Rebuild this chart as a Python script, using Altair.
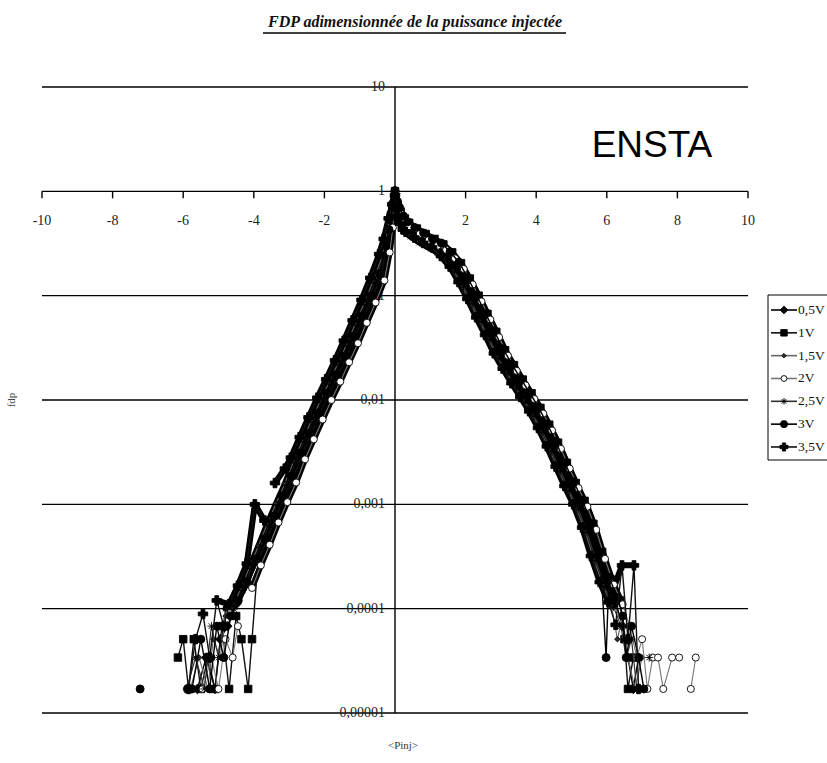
import altair as alt
import pandas as pd

# Series names (excitation voltage)
SERIES = ["0,5V", "1V", "1,5V", "2V", "2,5V", "3V", "3,5V"]

# Normalised injected power <Pinj> (x) and probability density (y), one pair per series
X_05V = [-5.6, -5.35, -5.1, -4.95, -4.75,
         -4.5, -4.25, -4.0, -3.75, -3.5, -3.25, -3.0, -2.75, -2.5, -2.25, -2.0, -1.75, -1.5, -1.25, -1.0, -0.75, -0.5,
         -0.3, -0.2, -0.1, -0.05, 0.0, 0.05, 0.1, 0.2, 0.3,
         0.5, 0.75, 1.0, 1.25, 1.5, 1.75, 2.0, 2.25, 2.5, 2.75, 3.0, 3.25, 3.5, 3.75, 4.0, 4.25, 4.5, 4.75,
         5.0, 5.25, 5.5, 5.75, 6.0, 6.25,
         6.45, 6.6, 6.75, 6.9]
Y_05V = [1.7e-5, 3.4e-5, 1.7e-5, 5.1e-5, 6.8e-5,
         1.1e-4, 1.66e-4, 2.7e-4, 4.3e-4, 7.0e-4, 1.1e-3, 1.7e-3, 2.8e-3, 4.4e-3, 6.8e-3, 1.05e-2, 1.58e-2, 2.4e-2,
         3.7e-2, 5.8e-2, 9.1e-2, 0.148,
         0.27, 0.38, 0.63, 0.79, 0.95, 0.75, 0.66, 0.54, 0.47,
         0.41, 0.36, 0.32, 0.29, 0.24, 0.19, 0.135, 0.093, 0.062, 0.042, 0.028, 0.020, 0.0145, 0.0107, 0.0078,
         0.0054, 0.0036, 0.0023, 0.0015, 0.0010, 6.0e-4, 3.2e-4, 1.8e-4, 1.15e-4,
         6.8e-5, 3.4e-5, 1.7e-5, 3.4e-5]

X_1V = [-6.15, -6.0, -5.85, -5.7, -5.5, -5.3, -5.1, -4.9, -4.7, -4.5, -4.35, -4.16, -4.05,
        -3.88, -3.63, -3.38, -3.13, -2.88, -2.63, -2.38, -2.13, -1.88, -1.63, -1.38, -1.13, -0.88, -0.63, -0.38,
        -0.25, -0.15, -0.06, 0.0, 0.08, 0.16, 0.28, 0.4,
        0.62, 0.87, 1.12, 1.37, 1.62, 1.87, 2.12, 2.37, 2.62, 2.87, 3.12, 3.37, 3.62, 3.87, 4.12, 4.37, 4.62,
        4.87, 5.12, 5.37, 5.62, 5.87, 6.12, 6.37,
        6.5, 6.6, 6.75]
Y_1V = [3.4e-5, 5.1e-5, 1.7e-5, 5.1e-5, 1.7e-5, 3.4e-5, 1.7e-5, 6.8e-5, 1.7e-5, 8.5e-5, 5.1e-5, 1.7e-5, 5.1e-5,
        2.9e-4, 4.6e-4, 7.6e-4, 1.19e-3, 1.84e-3, 3.0e-3, 4.75e-3, 7.3e-3, 1.13e-2, 1.71e-2, 2.6e-2, 4.0e-2,
        6.3e-2, 9.8e-2, 0.16,
        0.3, 0.43, 0.7, 1.0, 0.74, 0.64, 0.55, 0.5,
        0.44, 0.39, 0.35, 0.31, 0.26, 0.205, 0.146, 0.10, 0.067, 0.045, 0.030, 0.0216, 0.0157, 0.0116, 0.0084,
        0.0058, 0.0039, 0.0025, 0.0016, 1.08e-3, 6.5e-4, 3.5e-4, 1.9e-4, 1.2e-4,
        5.1e-5, 1.7e-5, 3.4e-5]

X_15V = [-5.8, -5.55, -5.3, -5.15, -4.95, -4.8,
         -4.62, -4.37, -4.12, -3.87, -3.62, -3.37, -3.12, -2.87, -2.62, -2.37, -2.12, -1.87, -1.62, -1.37, -1.12,
         -0.87, -0.62,
         -0.36, -0.26, -0.14, -0.07, 0.0, 0.04, 0.08, 0.16, 0.26,
         0.38, 0.63, 0.88, 1.13, 1.38, 1.63, 1.88, 2.13, 2.38, 2.63, 2.88, 3.13, 3.38, 3.63, 3.88, 4.13, 4.38,
         4.63, 4.88, 5.13, 5.38, 5.63, 5.88, 6.13,
         6.3, 6.45, 6.6, 6.8, 7.0]
Y_15V = [1.7e-5, 3.4e-5, 1.7e-5, 5.1e-5, 3.4e-5, 8.5e-5,
         1.02e-4, 1.54e-4, 2.5e-4, 4.0e-4, 6.5e-4, 1.02e-3, 1.58e-3, 2.6e-3, 4.1e-3, 6.3e-3, 9.8e-3, 1.47e-2,
         2.23e-2, 3.4e-2, 5.4e-2, 8.5e-2, 0.138,
         0.24, 0.34, 0.56, 0.72, 0.88, 0.7, 0.6, 0.5, 0.44,
         0.38, 0.335, 0.3, 0.27, 0.223, 0.177, 0.126, 0.086, 0.058, 0.039, 0.026, 0.0186, 0.0135, 0.0100, 0.0073,
         0.0050, 0.0033, 0.0021, 0.0014, 9.3e-4, 5.6e-4, 3.0e-4, 1.7e-4, 1.07e-4,
         5.1e-5, 8.5e-5, 3.4e-5, 1.7e-5, 3.4e-5]

X_2V = [-5.45, -5.2, -5.0, -4.8, -4.6, -4.45,
        -4.05, -3.8, -3.55, -3.3, -3.05, -2.8, -2.55, -2.3, -2.05, -1.8, -1.55, -1.3, -1.05, -0.8, -0.55, -0.3,
        -0.15, -0.06, 0.0, 0.06, 0.14, 0.26, 0.4,
        0.7, 0.95, 1.2, 1.45, 1.7, 1.95, 2.2, 2.45, 2.7, 2.95, 3.2, 3.45, 3.7, 3.95, 4.2, 4.45, 4.7, 4.95,
        5.2, 5.45, 5.7, 5.95, 6.2, 6.45,
        6.65, 6.85, 7.0, 7.15, 7.3, 7.45, 7.6, 7.85, 8.05, 8.38, 8.52]
Y_2V = [1.7e-5, 3.4e-5, 1.7e-5, 5.1e-5, 3.4e-5, 6.8e-5,
        1.58e-4, 2.6e-4, 4.1e-4, 6.7e-4, 1.05e-3, 1.62e-3, 2.7e-3, 4.2e-3, 6.5e-3, 1.0e-2, 1.5e-2, 2.3e-2,
        3.5e-2, 5.5e-2, 8.6e-2, 0.14,
        0.26, 0.45, 0.8, 0.72, 0.63, 0.53, 0.46,
        0.39, 0.34, 0.30, 0.275, 0.228, 0.18, 0.128, 0.088, 0.059, 0.040, 0.0266, 0.019, 0.0138, 0.0102, 0.0074,
        0.0051, 0.0034, 0.0022, 0.00143, 9.5e-4, 5.7e-4, 3.0e-4, 1.7e-4, 1.1e-4,
        6.8e-5, 3.4e-5, 5.1e-5, 1.7e-5, 3.4e-5, 3.4e-5, 1.7e-5, 3.4e-5, 3.4e-5, 1.7e-5, 3.4e-5]

X_25V = [-5.9, -5.65, -5.4, -5.2, -5.0, -4.8,
         -4.56, -4.31, -4.06, -3.81, -3.56, -3.31, -3.06, -2.81, -2.56, -2.31, -2.06, -1.81, -1.56, -1.31, -1.06,
         -0.81, -0.56,
         -0.33, -0.23, -0.12, -0.06, 0.0, 0.05, 0.1, 0.2, 0.3,
         0.44, 0.69, 0.94, 1.19, 1.44, 1.69, 1.94, 2.19, 2.44, 2.69, 2.94, 3.19, 3.44, 3.69, 3.94, 4.19, 4.44,
         4.69, 4.94, 5.19, 5.44, 5.69, 5.94, 6.19,
         6.4, 6.55, 6.7, 6.85, 7.2]
Y_25V = [1.7e-5, 3.4e-5, 1.7e-5, 6.8e-5, 3.4e-5, 1.0e-4,
         9.9e-5, 1.5e-4, 2.43e-4, 3.9e-4, 6.3e-4, 9.9e-4, 1.53e-3, 2.5e-3, 4.0e-3, 6.1e-3, 9.5e-3, 1.42e-2,
         2.16e-2, 3.3e-2, 5.2e-2, 8.2e-2, 0.133,
         0.24, 0.34, 0.55, 0.7, 0.86, 0.68, 0.59, 0.49, 0.43,
         0.37, 0.324, 0.29, 0.26, 0.216, 0.171, 0.122, 0.084, 0.056, 0.038, 0.025, 0.018, 0.013, 0.0096, 0.0070,
         0.0049, 0.0032, 0.0021, 0.00135, 9.0e-4, 5.4e-4, 2.9e-4, 1.6e-4, 1.04e-4,
         6.8e-5, 3.4e-5, 5.1e-5, 1.7e-5, 3.4e-5]

X_3V = [-7.22, -5.75, -5.5, -5.25, -5.05, -4.85, -4.65,
        -4.44, -4.19, -3.94, -3.69, -3.44, -3.19, -2.94, -2.69, -2.44, -2.19, -1.94, -1.69, -1.44, -1.19, -0.94,
        -0.69, -0.44,
        -0.27, -0.17, -0.07, -0.02, 0.0, 0.07, 0.13, 0.24, 0.36,
        0.56, 0.81, 1.06, 1.31, 1.56, 1.81, 2.06, 2.31, 2.56, 2.81, 3.06, 3.31, 3.56, 3.81, 4.06, 4.31, 4.56,
        4.81, 5.06, 5.31, 5.56, 5.81, 5.98, 6.06, 6.31,
        6.45, 6.55, 6.7, 6.9, 7.05]
Y_3V = [1.7e-5, 1.7e-5, 5.1e-5, 1.7e-5, 6.8e-5, 3.4e-5, 8.5e-5,
        1.2e-4, 1.83e-4, 3.0e-4, 4.7e-4, 7.7e-4, 1.21e-3, 1.87e-3, 3.1e-3, 4.8e-3, 7.5e-3, 1.16e-2, 1.74e-2,
        2.64e-2, 4.1e-2, 6.4e-2, 0.1, 0.163,
        0.3, 0.43, 0.7, 0.88, 1.02, 0.8, 0.7, 0.58, 0.51,
        0.45, 0.40, 0.35, 0.32, 0.264, 0.209, 0.149, 0.102, 0.068, 0.046, 0.031, 0.022, 0.016, 0.0118, 0.0086,
        0.0059, 0.004, 0.0025, 0.00165, 1.1e-3, 6.6e-4, 3.5e-4, 3.4e-5, 2.0e-4, 1.27e-4,
        8.5e-5, 3.4e-5, 6.8e-5, 3.4e-5, 1.7e-5]

X_35V = [-5.85, -5.65, -5.44, -5.25, -5.05, -4.85,
         -4.7, -4.45, -4.2, -3.97, -3.7, -3.4, -3.12, -2.95, -2.7, -2.45, -2.2, -1.95, -1.7, -1.45, -1.2, -0.95,
         -0.7,
         -0.45, -0.32, -0.18, -0.08, 0.0, 0.04, 0.08, 0.14, 0.22,
         0.3, 0.55, 0.8, 1.05, 1.3, 1.55, 1.8, 2.05, 2.3, 2.55, 2.8, 3.05, 3.3, 3.55, 3.8, 4.05, 4.3, 4.55,
         4.8, 5.05, 5.3, 5.55, 5.8, 6.05,
         6.25, 6.43, 6.6, 6.77, 6.9]
Y_35V = [1.7e-5, 5.1e-5, 8.9e-5, 3.4e-5, 1.2e-4, 6.8e-5,
         1.1e-4, 1.66e-4, 2.7e-4, 1.0e-3, 7.0e-4, 1.6e-3, 2.2e-3, 2.8e-3, 4.4e-3, 6.8e-3, 1.05e-2, 1.58e-2,
         2.4e-2, 3.7e-2, 5.8e-2, 9.1e-2, 0.148,
         0.25, 0.35, 0.55, 0.75, 0.92, 0.68, 0.58, 0.49, 0.43,
         0.41, 0.36, 0.32, 0.29, 0.24, 0.19, 0.135, 0.093, 0.062, 0.042, 0.028, 0.020, 0.0145, 0.0107, 0.0078,
         0.0054, 0.0036, 0.0023, 0.0015, 0.0010, 6.0e-4, 3.2e-4, 1.8e-4, 1.15e-4,
         7.0e-5, 2.6e-4, 5.1e-5, 2.6e-4, 1.7e-5]

SERIES_X = [X_05V, X_1V, X_15V, X_2V, X_25V, X_3V, X_35V]
SERIES_Y = [Y_05V, Y_1V, Y_15V, Y_2V, Y_25V, Y_3V, Y_35V]

# Axis ticks and their labels (French decimal comma)
DECADES = [1e-5, 1e-4, 1e-3, 1e-2, 1e-1, 1, 10]
DECADE_LABELS = ["0,00001", "0,0001", "0,001", "0,01", "0,1", "1", "10"]
X_TICKS = [-10, -8, -6, -4, -2, 2, 4, 6, 8, 10]
X_TICK_LABELS = ["-10", "-8", "-6", "-4", "-2", "2", "4", "6", "8", "10"]

TITLE = "FDP adimensionnée de la puissance injectée"
X_TITLE = "<Pinj>"
Y_TITLE = "fdp"
MARK_TEXT = "ENSTA"

# Marker and line styles, one per series
ASTERISK = "M-1,0L1,0M0,-1L0,1M-0.7,-0.7L0.7,0.7M-0.7,0.7L0.7,-0.7"
SHAPES = ["diamond", "square", "diamond", "circle", ASTERISK, "circle", "cross"]
FILLS = ["#000000", "#000000", "#333333", "#ffffff", "transparent", "#000000", "#000000"]
MARKER_SIZES = [90, 56, 30, 50, 64, 64, 90]
LEGEND_SIZES = [60, 42, 20, 34, 46, 50, 66]
LINE_COLORS = ["#000000", "#111111", "#666666", "#777777", "#333333", "#000000", "#111111"]
LINE_WIDTHS = [1.4, 1.4, 1.1, 1.1, 1.2, 1.4, 1.4]
CORE_FLOOR = 1.0e-4   # above this density the curves merge into one dark ribbon

# Long table; a gap in x larger than 0.3 starts a new line run (empty bins)
frames = []
for name, xs, ys in zip(SERIES, SERIES_X, SERIES_Y):
    part = pd.DataFrame({"x": xs, "y": ys})
    part["series"] = name
    part = part.sort_values("x")
    part["run"] = name + "#" + (part["x"].diff() > 0.3).cumsum().astype(str)
    frames.append(part)
data = pd.concat(frames, ignore_index=True)

W, H = 706, 626
SERIF = "Liberation Serif"

x_scale = alt.Scale(domain=[-10, 10], nice=False, zero=False)
y_scale = alt.Scale(type="log", domain=[1e-5, 10], nice=False)
X = lambda f: alt.X(f, scale=x_scale, axis=None)
Y = lambda f: alt.Y(f, scale=y_scale, axis=None)

# Horizontal rules at every decade (the one at 1 doubles as the x axis line)
grid = alt.Chart(pd.DataFrame({"v": DECADES})).mark_rule(color="black", strokeWidth=1.4).encode(y=Y("v:Q"))

# Vertical axis line through x = 0
y_axis_line = alt.Chart(pd.DataFrame({"x": [0.0]})).mark_rule(color="black", strokeWidth=1.4).encode(x=X("x:Q"))

# x ticks hanging below the line y = 1, and their labels
xt_df = pd.DataFrame({"x": X_TICKS, "y": [1.0] * len(X_TICKS), "label": X_TICK_LABELS})
x_ticks = alt.Chart(xt_df).mark_tick(
    orient="vertical", size=7, thickness=1.4, yOffset=3.5, color="black", opacity=1
).encode(x=X("x:Q"), y=Y("y:Q"))
x_labels = alt.Chart(xt_df).mark_text(
    font=SERIF, fontSize=14, color="#222222", align="center", baseline="middle", dy=30
).encode(x=X("x:Q"), y=Y("y:Q"), text="label:N")

# Decade labels just left of the vertical axis
yl_df = pd.DataFrame({"x": [0.0] * len(DECADES), "y": DECADES, "label": DECADE_LABELS})
y_labels = alt.Chart(yl_df).mark_text(
    font=SERIF, fontSize=14, color="#222222", align="right", baseline="middle", dx=-10
).encode(x=X("x:Q"), y=Y("y:Q"), text="label:N")

# Dense part of every curve, drawn heavy underneath the individual series
core = alt.Chart(data).transform_filter(alt.datum.y >= CORE_FLOOR).mark_line(
    color="black", strokeWidth=6, strokeJoin="round", strokeCap="round"
).encode(x=X("x:Q"), y=Y("y:Q"), detail="run:N")

# Connecting lines, markers and legend rows, series by series
LEG_TOP, LEG_STEP = 223, 22.83
legend_df = pd.DataFrame({"series": SERIES})
leg_box = alt.Chart(pd.DataFrame({"k": [0]})).mark_rect(fill="white", stroke="black", strokeWidth=1).encode(
    x=alt.value(726), x2=alt.value(800), y=alt.value(208), y2=alt.value(373)
)
series_layers = [core]
legend_layers = [leg_box]
for i, name in enumerate(SERIES):
    style = dict(shape=SHAPES[i], filled=True, fill=FILLS[i], stroke="black", strokeWidth=0.9, opacity=1)
    rows = alt.Chart(data).transform_filter(alt.datum.series == name)
    series_layers.append(
        rows.mark_line(color=LINE_COLORS[i], strokeWidth=LINE_WIDTHS[i]).encode(
            x=X("x:Q"), y=Y("y:Q"), detail="run:N"
        )
    )
    series_layers.append(
        rows.mark_point(size=MARKER_SIZES[i], **style).encode(x=X("x:Q"), y=Y("y:Q"))
    )
    row = alt.Chart(legend_df).transform_filter(alt.datum.series == name)
    ly = alt.value(LEG_TOP + i * LEG_STEP)
    legend_layers.append(
        row.mark_rule(color=LINE_COLORS[i], strokeWidth=1.6).encode(x=alt.value(729), x2=alt.value(755), y=ly)
    )
    legend_layers.append(row.mark_point(size=LEGEND_SIZES[i], **style).encode(x=alt.value(742), y=ly))
    legend_layers.append(
        row.mark_text(align="left", baseline="middle", font=SERIF, fontSize=13.5, color="#111111").encode(
            x=alt.value(756), y=ly, text="series:N"
        )
    )

# Texts around the plot
title = alt.Chart(pd.DataFrame({"t": [TITLE]})).mark_text(
    font=SERIF, fontStyle="italic", fontWeight="bold", fontSize=16, align="center", baseline="alphabetic",
    color="#111111"
).encode(x=alt.value(373), y=alt.value(-60), text="t:N")
underline = alt.Chart(pd.DataFrame({"k": [0]})).mark_rule(color="black", strokeWidth=1.4).encode(
    x=alt.value(221), x2=alt.value(524), y=alt.value(-54)
)
x_title = alt.Chart(pd.DataFrame({"t": [X_TITLE]})).mark_text(
    font=SERIF, fontSize=11, align="center", baseline="middle", color="#333333"
).encode(x=alt.value(361), y=alt.value(659), text="t:N")
y_title = alt.Chart(pd.DataFrame({"t": [Y_TITLE]})).mark_text(
    font=SERIF, fontSize=11, align="center", baseline="middle", angle=270, color="#444444"
).encode(x=alt.value(-30), y=alt.value(313), text="t:N")
ensta = alt.Chart(pd.DataFrame({"t": [MARK_TEXT]})).mark_text(
    font="Liberation Sans", fontSize=37, align="center", baseline="alphabetic", color="black"
).encode(x=alt.value(610), y=alt.value(70), text="t:N")

chart = alt.layer(
    grid, y_axis_line, x_ticks, x_labels, y_labels, *series_layers, *legend_layers,
    title, underline, x_title, y_title, ensta
).properties(
    width=W,
    height=H,
    autosize=alt.AutoSizeParams(type="none"),
    padding={"left": 42, "top": 87, "right": 79, "bottom": 50},
    background="white",
).configure_view(
    strokeWidth=0
)

chart.save("out.html", embed_options={"renderer": "svg", "actions": False})
